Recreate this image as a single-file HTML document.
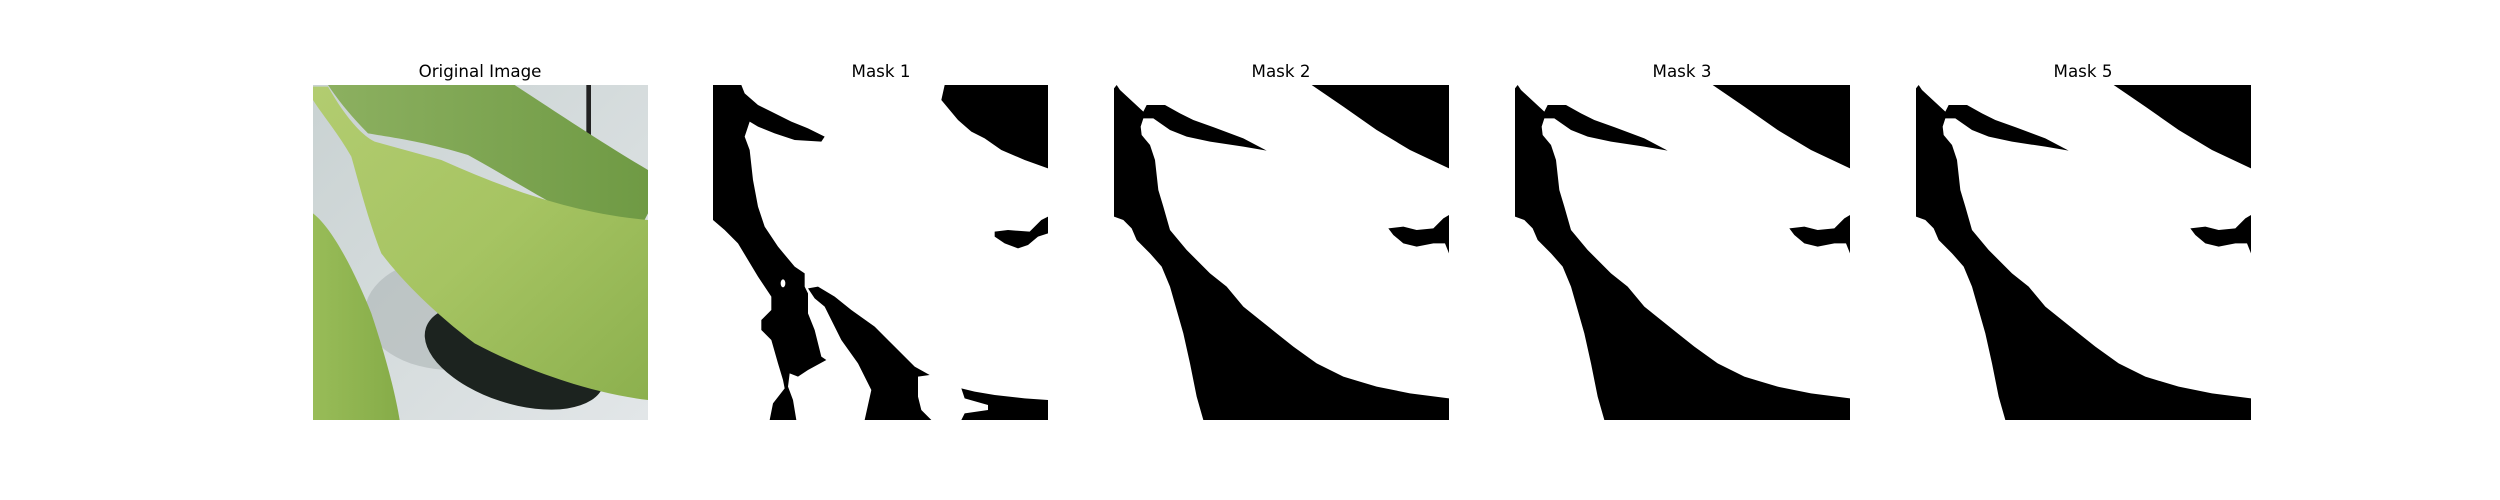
<!DOCTYPE html>
<html><head><meta charset="utf-8"><style>
html,body{margin:0;padding:0;background:#fff}
svg{display:block}
text{font-family:"DejaVu Sans","Liberation Sans",sans-serif;font-size:16.7px;fill:#000}
</style></head><body>
<svg width="2500" height="500" viewBox="0 0 2500 500">
<defs>
<linearGradient id="bg" x1="0" y1="0" x2="1" y2="1"><stop offset="0" stop-color="#c9d2d2"/><stop offset="1" stop-color="#e2e6e8"/></linearGradient>
<linearGradient id="lf" x1="0" y1="0" x2="1" y2="1"><stop offset="0" stop-color="#b2cc70"/><stop offset="0.5" stop-color="#a6c462"/><stop offset="1" stop-color="#8cb04e"/></linearGradient>
<linearGradient id="up" x1="0" y1="0" x2="1" y2="0"><stop offset="0" stop-color="#8cb060"/><stop offset="1" stop-color="#6f9a44"/></linearGradient>
<linearGradient id="ll" x1="0" y1="0" x2="1" y2="0"><stop offset="0" stop-color="#98bc58"/><stop offset="1" stop-color="#86ac48"/></linearGradient>
</defs>

<g>
<text x="480" y="77" text-anchor="middle">Original Image</text>
<svg x="313" y="85" width="335" height="335" viewBox="15 15 1005 1005">
<rect x="15" y="15" width="1005" height="1005" fill="url(#bg)"/>
<ellipse cx="430" cy="700" rx="260" ry="170" fill="#aeb6b6" opacity="0.6"/>
<ellipse cx="620" cy="830" rx="280" ry="140" transform="rotate(18 620 830)" fill="#1c231f"/>
<rect x="835" y="15" width="14" height="170" fill="#222"/>
<path d="M60,15 L620,15 C750,100 900,200 1020,270 L1020,400 C1000,440 980,470 960,480 C800,420 600,290 480,225 C350,185 250,172 180,160 C130,110 90,60 60,15 Z" fill="url(#up)"/>
<path d="M15,20 L60,20 C100,90 150,160 200,185 L400,240 C600,330 800,400 1020,420 L1020,960 C850,940 650,870 500,790 C380,700 280,600 220,520 C180,420 150,300 130,230 C90,160 40,100 15,60 Z" fill="url(#lf)"/>
<path d="M15,400 C80,450 150,600 190,700 C230,820 260,930 275,1020 L15,1020 Z" fill="url(#ll)"/>
</svg>
</g>

<g>
<text x="881" y="77" text-anchor="middle">Mask 1</text>
<svg x="713" y="85" width="335" height="335" viewBox="15 15 1005 1005">
<rect x="15" y="15" width="1005" height="1005" fill="#fff"/>
<g fill="#000">
<path d="M15,15 L100,15 L110,40 L150,75 L190,95 L250,125 L300,145 L350,170 L340,185 L260,180 L200,160 L150,140 L125,125 L110,170 L125,210 L135,300 L150,380 L170,440 L210,500 L260,560 L290,580 L290,620 L300,640 L300,700 L320,750 L340,830 L355,840 L300,870 L270,890 L245,880 L240,920 L255,960 L265,1020 L185,1020 L195,970 L230,925 L225,900 L210,850 L190,780 L160,750 L160,720 L190,690 L190,650 L150,590 L120,540 L90,490 L50,450 L15,420 Z"/>
<path d="M300,625 L330,620 L380,650 L430,690 L500,740 L560,800 L620,860 L665,885 L630,890 L630,950 L640,990 L670,1020 L470,1020 L490,930 L450,850 L400,780 L370,720 L350,680 L320,655 Z"/>
<path d="M710,15 L1020,15 L1020,265 L950,240 L880,210 L830,175 L790,155 L750,120 L700,60 Z"/>
<path d="M860,455 L900,450 L965,455 L1000,420 L1020,410 L1020,460 L990,470 L960,495 L930,505 L890,490 L860,470 Z"/>
<path d="M760,925 L800,935 L860,945 L950,955 L1020,960 L1020,1020 L760,1020 L770,1000 L840,990 L840,975 L770,955 Z"/>
</g>
<ellipse cx="225" cy="610" rx="7" ry="12" fill="#fff"/>
</svg>
</g>

<g>
<text x="1281" y="77" text-anchor="middle">Mask 2</text>
<svg x="1114" y="85" width="335" height="335" viewBox="12 15 1005 1005">
<rect x="12" y="15" width="1005" height="1005" fill="#fff"/>
<g fill="#000" id="m">
<path d="M12,25 L20,15 L30,30 L100,95 L110,75 L165,75 L210,100 L250,120 L320,145 L400,175 L470,212 L400,200 L300,185 L230,170 L180,150 L130,115 L100,115 L92,140 L95,165 L120,195 L135,240 L145,330 L160,380 L180,450 L230,510 L300,580 L350,620 L400,680 L450,720 L500,760 L550,800 L620,850 L700,890 L800,920 L900,940 L1017,955 L1017,1020 L280,1020 L260,950 L240,850 L220,760 L200,690 L180,620 L155,560 L120,520 L80,480 L65,445 L40,420 L12,410 Z"/>
<path d="M605,15 L700,80 L800,150 L900,210 L1017,265 L1017,15 Z"/>
<path d="M835,445 L880,440 L920,450 L970,445 L1000,415 L1017,405 L1017,520 L1005,490 L970,490 L920,500 L880,490 L850,465 Z"/>
</g>
</svg>
</g>

<g>
<text x="1682" y="77" text-anchor="middle">Mask 3</text>
<svg x="1515" y="85" width="335" height="335" viewBox="12 15 1005 1005">
<rect x="12" y="15" width="1005" height="1005" fill="#fff"/>
<use href="#m"/>
</svg>
</g>

<g>
<text x="2083" y="77" text-anchor="middle">Mask 5</text>
<svg x="1916" y="85" width="335" height="335" viewBox="12 15 1005 1005">
<rect x="12" y="15" width="1005" height="1005" fill="#fff"/>
<use href="#m"/>
</svg>
</g>
</svg>
</body></html>
